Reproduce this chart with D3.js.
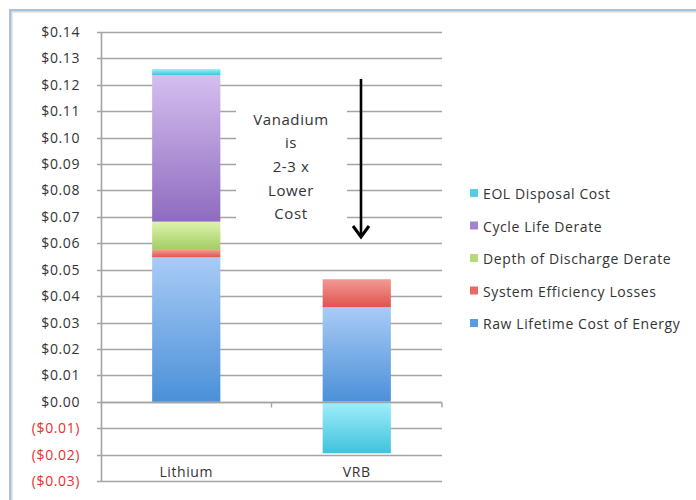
<!DOCTYPE html>
<html>
<head>
<meta charset="utf-8">
<script src="https://cdn.jsdelivr.net/npm/d3@7"></script>
<style>
  html, body { margin: 0; padding: 0; background: #fff; }
  svg { display: block; }
</style>
</head>
<body>
<svg id="chart" width="696" height="500"></svg>
<script>
// Levelized cost per kWh, stacked by cost component
const categories = ["Lithium", "VRB"];
const seriesNames = [
  "Raw Lifetime Cost of Energy",
  "System Efficiency Losses",
  "Depth of Discharge Derate",
  "Cycle Life Derate",
  "EOL Disposal Cost"
];
const rawCost      = [0.0547, 0.0358];
const efficiency   = [0.0028, 0.0106];
const depthDerate  = [0.0107, 0.0];
const cycleDerate  = [0.0555, 0.0];
const eolDisposal  = [0.0023, -0.0195];
const yTicks = [-0.03, -0.02, -0.01, 0, 0.01, 0.02, 0.03, 0.04, 0.05, 0.06, 0.07, 0.08, 0.09, 0.10, 0.11, 0.12, 0.13, 0.14];
const noteLines = ["Vanadium", "is", "2-3 x", "Lower", "Cost"];

const seriesValues = [rawCost, efficiency, depthDerate, cycleDerate, eolDisposal];
const palette = [
  ["#a9cbf6", "#4b90d8"],
  ["#f39a94", "#e0534d"],
  ["#def4ad", "#a2cc61"],
  ["#d4bfee", "#8f6bc0"],
  ["#a2eefb", "#3fc3dc"]
];
const legendColors = ["#5b9be0", "#e86a63", "#b6da78", "#a283d0", "#56cde3"];

const svg = d3.select("#chart");
const font = "'Open Sans', 'DejaVu Sans', sans-serif";
const labelSize = 14, labelSpacing = 0.6;

// outer frame
svg.append("rect").attr("x", 11.5).attr("y", 11.5).attr("width", 700).attr("height", 500)
  .attr("fill", "none").attr("stroke", "#d6d6d6").attr("stroke-width", 2);
svg.append("rect").attr("x", 10).attr("y", 10).attr("width", 700).attr("height", 500)
  .attr("fill", "none").attr("stroke", "#94b4dc").attr("stroke-width", 1.6);

const plotLeft = 101, plotRight = 442, plotTop = 32, plotBottom = 481;
const x = d3.scaleBand().domain(categories).range([plotLeft, plotRight]).paddingInner(0.6).paddingOuter(0.3);
const y = d3.scaleLinear().domain([-0.03, 0.14]).range([plotBottom, plotTop]);

const defs = svg.append("defs");
palette.forEach((c, i) => {
  const g = defs.append("linearGradient").attr("id", "grad" + i)
    .attr("x1", 0).attr("y1", 0).attr("x2", 0).attr("y2", 1);
  g.append("stop").attr("offset", "0%").attr("stop-color", c[0]);
  g.append("stop").attr("offset", "100%").attr("stop-color", c[1]);
});

// gridlines
svg.append("g").selectAll("line").data(yTicks).join("line")
  .attr("x1", plotLeft - 4).attr("x2", plotRight)
  .attr("y1", d => Math.round(y(d)) + 0.5).attr("y2", d => Math.round(y(d)) + 0.5)
  .attr("stroke", "#a4a4a4").attr("stroke-width", 1.6);

// y axis
const yAxis = d3.axisLeft(y).tickValues(yTicks).tickSize(0).tickPadding(21)
  .tickFormat(d => {
    const s = "$" + Math.abs(d).toFixed(2);
    return d < 0 ? "(" + s + ")" : s;
  });
const yg = svg.append("g").attr("transform", `translate(${plotLeft},0)`).call(yAxis);
yg.select(".domain").remove();
yg.selectAll("text").attr("font-family", font).attr("font-size", labelSize)
  .attr("letter-spacing", labelSpacing)
  .attr("fill", d => d < 0 ? "#ec2e2e" : "#333");
svg.append("line").attr("x1", plotLeft + 0.5).attr("x2", plotLeft + 0.5).attr("y1", plotTop).attr("y2", plotBottom)
  .attr("stroke", "#a4a4a4").attr("stroke-width", 1.6);

// stacked bars
const stackData = categories.map((c, i) => {
  const o = { category: c };
  seriesNames.forEach((s, k) => o[s] = seriesValues[k][i]);
  return o;
});
const stacked = d3.stack().keys(seriesNames).offset(d3.stackOffsetDiverging)(stackData);
svg.append("g").selectAll("g").data(stacked).join("g")
  .attr("fill", (d, i) => `url(#grad${i})`)
  .selectAll("rect").data(d => d.filter(p => p[1] !== p[0])).join("rect")
  .attr("x", d => x(d.data.category))
  .attr("width", x.bandwidth())
  .attr("y", d => y(Math.max(d[0], d[1])))
  .attr("height", d => Math.abs(y(d[0]) - y(d[1])));

// category axis at zero
const zeroY = Math.round(y(0)) + 0.5;
svg.append("line").attr("x1", plotLeft).attr("x2", plotRight).attr("y1", zeroY).attr("y2", zeroY)
  .attr("stroke", "#a4a4a4").attr("stroke-width", 1.6);
const bounds = [x("VRB") - x.step() * x.paddingInner() / 2, plotRight];
svg.append("g").selectAll("line").data(bounds).join("line")
  .attr("x1", d => d).attr("x2", d => d)
  .attr("y1", zeroY).attr("y2", zeroY + 5)
  .attr("stroke", "#a4a4a4").attr("stroke-width", 1.4);
svg.append("g").selectAll("text").data(categories).join("text")
  .attr("x", d => x(d) + x.bandwidth() / 2).attr("y", 476.5)
  .attr("text-anchor", "middle").attr("font-family", font).attr("font-size", labelSize)
  .attr("letter-spacing", labelSpacing).attr("fill", "#333")
  .text(d => d);

// annotation text box (opaque, hides gridlines behind it)
svg.append("rect").attr("x", 236).attr("y", 92).attr("width", 111).attr("height", 138).attr("fill", "#fff");
svg.append("g").selectAll("text").data(noteLines).join("text")
  .attr("x", 291).attr("y", (d, i) => 124.5 + i * 23.7)
  .attr("text-anchor", "middle").attr("font-family", font).attr("font-size", 15)
  .attr("letter-spacing", 0.6).attr("fill", "#333")
  .text(d => d);
svg.append("line").attr("x1", 361).attr("x2", 361).attr("y1", 79).attr("y2", 236)
  .attr("stroke", "#000").attr("stroke-width", 2.6);
svg.append("path").attr("d", "M353,226 L361,237 L369,226")
  .attr("fill", "none").attr("stroke", "#000").attr("stroke-width", 3).attr("stroke-linejoin", "miter");

// legend (top entry is the last series)
const legendOrder = d3.range(seriesNames.length).reverse();
const lg = svg.append("g").selectAll("g").data(legendOrder).join("g")
  .attr("transform", (d, i) => `translate(470,${194 + i * 32.5})`);
lg.append("rect").attr("x", 0).attr("y", -5).attr("width", 8).attr("height", 8)
  .attr("fill", d => legendColors[d]);
lg.append("text").attr("x", 13).attr("y", 5)
  .attr("font-family", font).attr("font-size", labelSize)
  .attr("letter-spacing", labelSpacing).attr("fill", "#333")
  .text(d => seriesNames[d]);
</script>
</body>
</html>
